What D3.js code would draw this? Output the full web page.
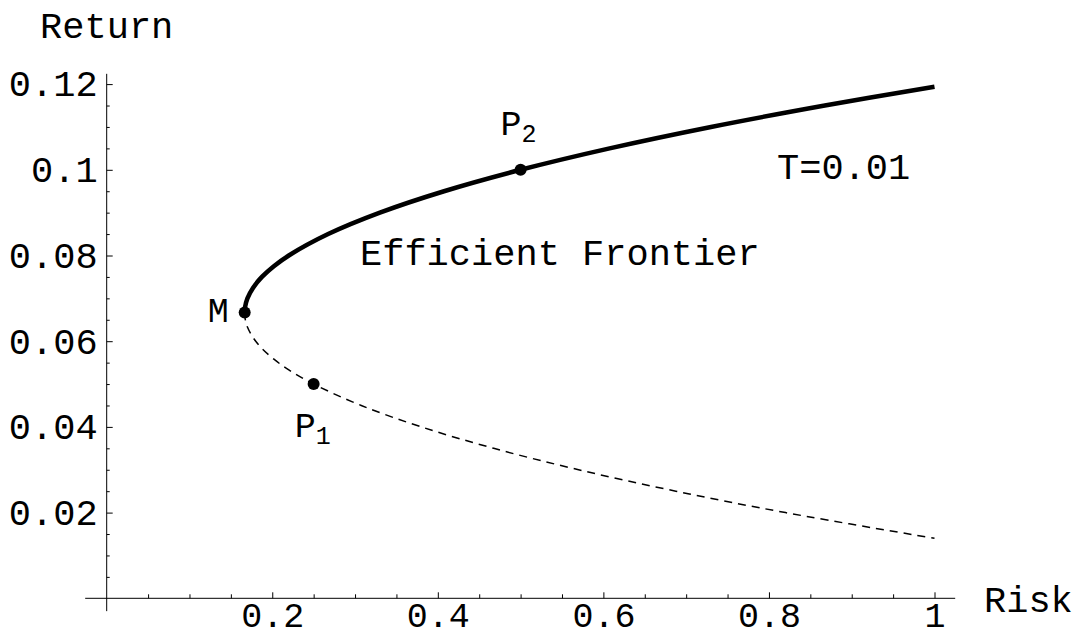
<!DOCTYPE html>
<html><head><meta charset="utf-8">
<script src="https://cdn.jsdelivr.net/npm/d3@7"></script>
<style>body{margin:0;background:#fff}</style>
</head><body>
<script>
// Efficient frontier (upper, solid): return -> risk
const upperReturn = [0.0667,0.068,0.070,0.0725,0.075,0.0775,0.080,0.085,0.090,0.095,0.100,0.105,0.110,0.115,0.1194];
const upperRisk   = [0.1667,0.1672,0.170,0.1769,0.1875,0.2019,0.220,0.2675,0.330,0.4075,0.500,0.6075,0.730,0.8675,1.0];
// Inefficient branch (lower, dashed)
const lowerReturn = [0.0667,0.0653,0.0633,0.0608,0.0583,0.0558,0.0533,0.050,0.045,0.040,0.035,0.030,0.025,0.020,0.014];
const lowerRisk   = [0.1667,0.1672,0.170,0.177,0.1875,0.202,0.220,0.250,0.3075,0.380,0.4675,0.570,0.6875,0.820,1.0];
// Marked portfolios
const pointNames  = ["M","P","P"];
const pointSubs   = ["","1","2"];
const pointRisk   = [0.1667,0.25,0.5];
const pointReturn = [0.0667,0.05,0.1];
// Ticks
const xTickValues = [0.2,0.4,0.6,0.8,1];
const xTickLabels = ["0.2","0.4","0.6","0.8","1"];
const yTickValues = [0.02,0.04,0.06,0.08,0.1,0.12];
const yTickLabels = ["0.02","0.04","0.06","0.08","0.1","0.12"];
const xMinorTicks = [0.05,0.1,0.15,0.25,0.3,0.35,0.45,0.5,0.55,0.65,0.7,0.75,0.85,0.9,0.95];
const yMinorTicks = [0.005,0.01,0.015,0.025,0.03,0.035,0.045,0.05,0.055,0.065,0.07,0.075,0.085,0.09,0.095,0.105,0.11,0.115];

const FONT = "'Liberation Mono','Courier New',monospace";
const FS = 37;

const W = 1078, H = 638;
const svg = d3.select("body").append("svg").attr("width", W).attr("height", H);

const x = d3.scaleLinear().domain([0, 1]).range([106.7, 934.5]);
const y = d3.scaleLinear().domain([0, 0.12]).range([598.3, 84.1]);

// axis lines
svg.append("line").attr("x1", x(-0.026)).attr("x2", x(1.025))
  .attr("y1", y(0)).attr("y2", y(0)).attr("stroke", "#000").attr("stroke-width", 1);
svg.append("line").attr("x1", x(0)).attr("x2", x(0))
  .attr("y1", y(-0.003)).attr("y2", y(0.1224)).attr("stroke", "#000").attr("stroke-width", 1);

// minor ticks
const gxm = svg.append("g").attr("transform", `translate(0,${y(0)})`)
  .call(d3.axisBottom(x).tickValues(xMinorTicks).tickSize(-4).tickFormat(""));
const gym = svg.append("g").attr("transform", `translate(${x(0)},0)`)
  .call(d3.axisLeft(y).tickValues(yMinorTicks).tickSize(-3).tickFormat(""));
// major ticks
const gx = svg.append("g").attr("transform", `translate(0,${y(0)})`)
  .call(d3.axisBottom(x).tickValues(xTickValues).tickSize(-6).tickPadding(3.5)
    .tickFormat((d, i) => xTickLabels[i]));
const gy = svg.append("g").attr("transform", `translate(${x(0)},0)`)
  .call(d3.axisLeft(y).tickValues(yTickValues).tickSize(-6).tickPadding(9)
    .tickFormat((d, i) => yTickLabels[i]));
[gxm, gym, gx, gy].forEach(g => {
  g.select(".domain").remove();
  g.selectAll("line").attr("stroke", "#000");
  g.selectAll("text").attr("font-family", FONT).attr("font-size", FS).attr("fill", "#000");
});
gx.selectAll("text").attr("font-size", 35);

// curves
const lineU = d3.line().x((d) => x(d[0])).y(d => y(d[1])).curve(d3.curveCatmullRom);
const upper = upperRisk.map((r, i) => [r, upperReturn[i]]);
const lower = lowerRisk.map((r, i) => [r, lowerReturn[i]]);
svg.append("path").datum(lower).attr("d", lineU).attr("fill", "none")
  .attr("stroke", "#000").attr("stroke-width", 1.5).attr("stroke-dasharray", "8,6");
svg.append("path").datum(upper).attr("d", lineU).attr("fill", "none")
  .attr("stroke", "#000").attr("stroke-width", 4.5).attr("stroke-linejoin", "round");

// points
svg.selectAll("circle.pt").data(pointRisk).enter().append("circle")
  .attr("cx", d => x(d)).attr("cy", (d, i) => y(pointReturn[i])).attr("r", 6).attr("fill", "#000");

// point labels
const labOff = [[-37, 10], [-19, 53], [-20, -35]];
pointNames.forEach((n, i) => {
  const t = svg.append("text").attr("x", x(pointRisk[i]) + labOff[i][0]).attr("y", y(pointReturn[i]) + labOff[i][1])
    .attr("font-family", FONT).attr("font-size", 35).attr("fill", "#000");
  t.append("tspan").text(n);
  if (pointSubs[i]) t.append("tspan").attr("dy", 7).attr("font-size", 25).text(pointSubs[i]);
});

// axis titles and annotations
svg.append("text").attr("x", x(0)).attr("y", 38).attr("text-anchor", "middle")
  .attr("font-family", FONT).attr("font-size", FS).text("Return");
svg.append("text").attr("x", 984).attr("y", 612)
  .attr("font-family", FONT).attr("font-size", FS).text("Risk");
svg.append("text").attr("x", 777).attr("y", 179)
  .attr("font-family", FONT).attr("font-size", FS).text("T=0.01");
svg.append("text").attr("x", 360).attr("y", 265)
  .attr("font-family", FONT).attr("font-size", FS).text("Efficient Frontier");
</script>
</body></html>
